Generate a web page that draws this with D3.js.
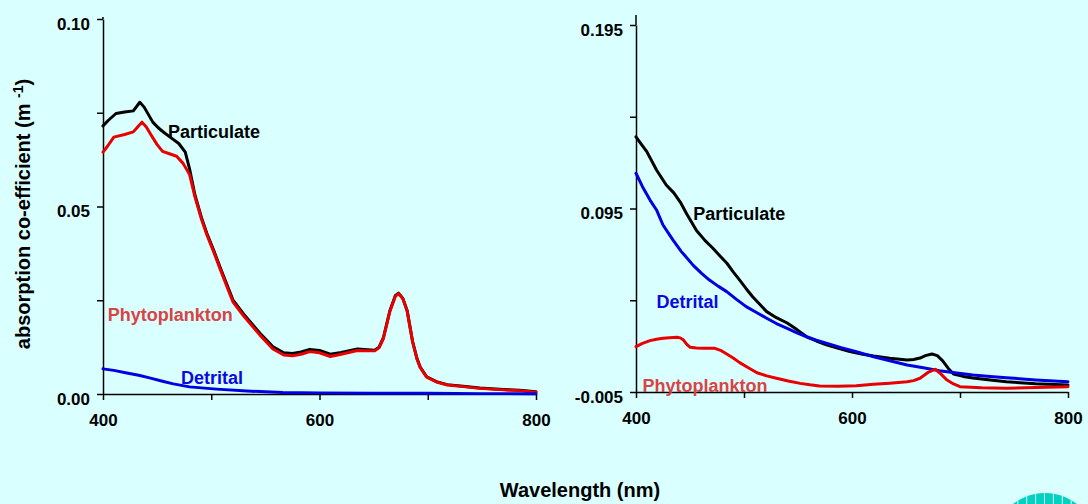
<!DOCTYPE html>
<html>
<head>
  <meta charset="utf-8">
  <title>Absorption spectra</title>
  <style type="text/css">
    body { margin: 0; background: #daffff; }
    svg { display: block; background: #daffff; }
    text { font-family: Arial, "Liberation Sans", sans-serif; font-weight: bold; }
    .axis path, .axis line { stroke: #000; stroke-width: 1.5; }
    .axis text { fill: #000; }
    .spectrum { fill: none; stroke-width: 3; stroke-linejoin: round; stroke-linecap: round; }
  </style>
</head>
<body>
<svg id="vis" width="1088" height="504"></svg>

<script src="https://cdnjs.cloudflare.com/ajax/libs/d3/7.8.5/d3.min.js"></script>
<script type="text/javascript">
  // ---- data ----
  // left panel
  var leftParticulateNm = [400,405,412,420,428,434,438,442,446,451,456,462,470,476,480,485,491,496,502,508,514,520,530,545,557,567,575,583,591,600,610,620,635,651,655,659,665,670,673,677,681,686,690,693,699,708,718,735,748,770,785,800]
  var leftParticulate   = [0.0715,0.0730,0.0748,0.0752,0.0755,0.0778,0.0765,0.0745,0.0725,0.0710,0.0698,0.0685,0.0668,0.0645,0.0600,0.0530,0.0470,0.0428,0.0385,0.0339,0.0295,0.0251,0.0213,0.0162,0.0126,0.0110,0.0108,0.0112,0.0119,0.0116,0.0106,0.0111,0.0120,0.0117,0.0125,0.0150,0.0222,0.0262,0.0269,0.0255,0.0222,0.0140,0.0095,0.0072,0.0046,0.0033,0.0025,0.0020,0.0016,0.0012,0.0010,0.0006]
  var leftPhytoNm = [400,404,410,420,428,432,436,440,445,450,455,462,468,474,480,485,491,496,502,508,514,520,530,545,557,567,575,583,591,600,610,620,635,651,655,659,665,670,673,677,681,686,690,693,699,708,718,735,748,770,785,800]
  var leftPhyto   = [0.0645,0.0660,0.0685,0.0692,0.0699,0.0712,0.0725,0.0712,0.0688,0.0665,0.0647,0.0640,0.0634,0.0615,0.0585,0.0525,0.0466,0.0424,0.0381,0.0335,0.0290,0.0246,0.0208,0.0157,0.0120,0.0104,0.0102,0.0106,0.0113,0.0110,0.0100,0.0106,0.0116,0.0115,0.0123,0.0148,0.0220,0.0260,0.0268,0.0254,0.0221,0.0139,0.0094,0.0071,0.0045,0.0032,0.0024,0.0019,0.0015,0.0011,0.0009,0.0005]
  var leftDetritalNm = [400,410,422,433,443,455,465,480,505,533,566,600,650,700,750,800]
  var leftDetrital   = [0.0067,0.0063,0.0056,0.0050,0.0043,0.0034,0.0027,0.0019,0.0013,0.0008,0.0004,0.0003,0.0002,0.0002,0.0001,0.0001]

  // right panel
  var rightParticulateNm = [400,405,410,419,428,435,441,447,456,464,471,478,484,490,496,502,508,515,521,530,540,549,558,567,577,589,598,610,620,635,651,657,663,668,674,679,684,689,694,703,712,728,743,770,800]
  var rightParticulate   = [0.1341,0.1300,0.1260,0.1160,0.1078,0.1035,0.0985,0.0920,0.0830,0.0775,0.0735,0.0690,0.0653,0.0605,0.0560,0.0513,0.0469,0.0425,0.0388,0.0355,0.0326,0.0290,0.0251,0.0228,0.0206,0.0185,0.0170,0.0156,0.0146,0.0134,0.0124,0.0127,0.0135,0.0148,0.0157,0.0148,0.0120,0.0080,0.0048,0.0035,0.0026,0.0015,0.0006,-0.0005,-0.0012]
  var rightDetritalNm = [400,406,413,419,425,434,442,445,453,461,468,476,484,493,502,512,521,530,540,549,558,567,577,590,604,620,635,651,666,681,697,712,728,743,770,800]
  var rightDetrital   = [0.1142,0.1069,0.0996,0.0942,0.0860,0.0780,0.0715,0.0695,0.0640,0.0595,0.0560,0.0527,0.0497,0.0455,0.0415,0.0382,0.0352,0.0323,0.0297,0.0272,0.0251,0.0232,0.0215,0.0192,0.0170,0.0142,0.0120,0.0097,0.0082,0.0066,0.0054,0.0043,0.0035,0.0028,0.0016,0.0006]
  var rightPhytoNm = [400,406,413,419,425,431,438,441,444,447,450,456,462,468,473,479,484,490,496,504,512,521,530,541,552,561,570,587,604,620,635,651,657,663,670,677,682,688,694,700,720,743,770,800]
  var rightPhyto   = [0.0197,0.0215,0.0230,0.0237,0.0243,0.0245,0.0248,0.0245,0.0233,0.0210,0.0194,0.0190,0.0188,0.0189,0.0188,0.0175,0.0157,0.0135,0.0110,0.0082,0.0055,0.0038,0.0025,0.0010,-0.0003,-0.0011,-0.0017,-0.0018,-0.0016,-0.0008,-0.0002,0.0006,0.0012,0.0025,0.0055,0.0074,0.0050,0.0015,-0.0006,-0.0021,-0.0027,-0.0030,-0.0026,-0.0021]

  // ticks
  var xTicks = [400, 500, 600, 700, 800]
  var xTickLabels = ['400', '', '600', '', '800']
  var leftYTicks = [0, 0.025, 0.05, 0.075, 0.10]
  var leftYTickLabels = ['0.00', '', '0.05', '', '0.10']
  var rightYTicks = [-0.005, 0.045, 0.095, 0.145, 0.195]
  var rightYTickLabels = ['-0.005', '', '0.095', '', '0.195']

  var colors = { particulate: '#000000', phyto: '#e80000', detrital: '#0000e0' }
  var labelColors = { particulate: '#000000', phyto: '#d84444', detrital: '#0a0ae0' }

  var svg = d3.select('#vis')

  function zip(xs, ys) {
    return xs.map(function(x, i) { return [x, ys[i]] })
  }

  function drawPanel(p) {
    var x = d3.scaleLinear().domain([400, 800]).range([p.left, p.right])
    var y = d3.scaleLinear().domain(p.yDomain).range([p.bottom, p.top])

    var g = svg.append('g')

    // y axis
    var yAxis = d3.axisLeft(y)
      .tickValues(p.yTicks)
      .tickFormat(function(d, i) { return p.yLabels[i] })
      .tickSize(6).tickSizeOuter(0).tickPadding(7)
    var ya = g.append('g').attr('class', 'axis')
      .attr('transform', 'translate(' + p.left + ',0)')
      .call(yAxis)
    ya.selectAll('text').style('font-size', '17px').attr('dy', '0.6em')
    // axis line runs a little above the top tick
    ya.append('line').attr('x1', 0).attr('x2', 0)
      .attr('y1', p.top).attr('y2', p.axisTop)

    // x axis
    var xAxis = d3.axisBottom(x)
      .tickValues(xTicks)
      .tickFormat(function(d, i) { return xTickLabels[i] })
      .tickSize(6).tickSizeOuter(0).tickPadding(14)
    var xa = g.append('g').attr('class', 'axis')
      .attr('transform', 'translate(0,' + p.bottom + ')')
      .call(xAxis)
    xa.selectAll('text').style('font-size', '17px')
    svg.selectAll('.axis').attr('font-family', null).attr('font-size', null)

    var line = d3.line()
      .x(function(d) { return x(d[0]) })
      .y(function(d) { return y(d[1]) })

    p.series.forEach(function(s) {
      g.append('path')
        .attr('class', 'spectrum')
        .attr('stroke', colors[s.key])
        .attr('d', line(zip(s.nm, s.values)))
    })

    p.labels.forEach(function(l) {
      g.append('text')
        .attr('x', x(l.nm))
        .attr('y', y(l.value))
        .attr('fill', labelColors[l.key])
        .style('font-size', '18px')
        .text(l.text)
    })
  }

  drawPanel({
    left: 103, right: 536, top: 19, bottom: 394, axisTop: 17,
    yDomain: [0, 0.10], yTicks: leftYTicks, yLabels: leftYTickLabels,
    series: [
      { key: 'particulate', nm: leftParticulateNm, values: leftParticulate },
      { key: 'phyto', nm: leftPhytoNm, values: leftPhyto },
      { key: 'detrital', nm: leftDetritalNm, values: leftDetrital }
    ],
    labels: [
      { key: 'particulate', text: 'Particulate', nm: 460, value: 0.0683 },
      { key: 'phyto', text: 'Phytoplankton', nm: 404.5, value: 0.0195 },
      { key: 'detrital', text: 'Detrital', nm: 472, value: 0.0027 }
    ]
  })

  drawPanel({
    left: 636, right: 1068, top: 25, bottom: 392, axisTop: 15,
    yDomain: [-0.005, 0.195], yTicks: rightYTicks, yLabels: rightYTickLabels,
    series: [
      { key: 'particulate', nm: rightParticulateNm, values: rightParticulate },
      { key: 'detrital', nm: rightDetritalNm, values: rightDetrital },
      { key: 'phyto', nm: rightPhytoNm, values: rightPhyto }
    ],
    labels: [
      { key: 'particulate', text: 'Particulate', nm: 453, value: 0.0885 },
      { key: 'detrital', text: 'Detrital', nm: 419, value: 0.0406 },
      { key: 'phyto', text: 'Phytoplankton', nm: 406, value: -0.0048 }
    ]
  })

  // axis titles
  svg.append('text')
    .attr('x', 580).attr('y', 497)
    .attr('text-anchor', 'middle')
    .style('font-size', '20px')
    .text('Wavelength (nm)')

  var yt = svg.append('text')
    .attr('transform', 'translate(30,214) rotate(-90)')
    .attr('text-anchor', 'middle')
    .style('font-size', '20px')
  yt.append('tspan').text('absorption co-efficient (m ')
  yt.append('tspan').attr('dy', -7).style('font-size', '14px').text(' -1')
  yt.append('tspan').attr('dy', 7).text(')')

  // corner logo (striped dome, mostly off the page)
  var logo = svg.append('g')
  logo.append('clipPath').attr('id', 'dome')
    .append('circle').attr('cx', 1045).attr('cy', 545).attr('r', 52)
  logo.append('circle').attr('cx', 1045).attr('cy', 545).attr('r', 52).attr('fill', '#00d2c2')
  d3.range(-3, 7).forEach(function(k) {
    logo.append('line')
      .attr('clip-path', 'url(#dome)')
      .attr('x1', 1026.7 + 8.9 * k).attr('x2', 1026.7 + 8.9 * k)
      .attr('y1', 490).attr('y2', 504)
      .attr('stroke', '#daffff').attr('stroke-width', 1)
  })
</script>
</body>
</html>
